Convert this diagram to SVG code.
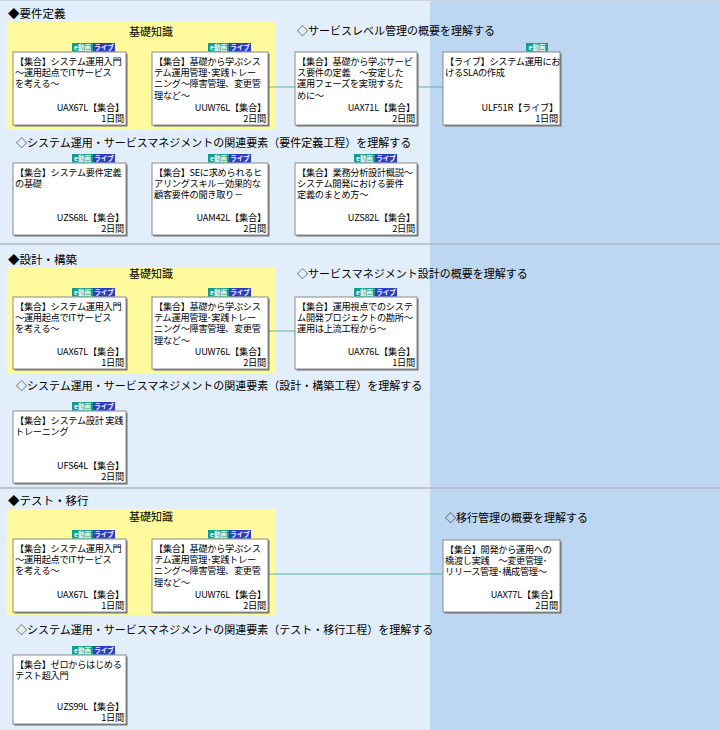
<svg xmlns="http://www.w3.org/2000/svg" width="720" height="730" viewBox="0 0 720 730">
<style>
text{font-family:"Noto Sans CJK JP","Noto Sans",sans-serif;fill:#000}
.sec{font-size:11.5px}
.h{font-size:11px}
.kk{font-size:11px}
.t{font-size:9.2px;letter-spacing:-0.3px}
.r{font-size:9.2px;letter-spacing:-0.2px;text-anchor:end}
.bx{fill:#fff;stroke:#8a8a8a;stroke-width:1}
.sh{fill:#6e6e6e}
.bt{font-size:6.5px;font-weight:bold;fill:#fff;text-anchor:middle}
.be{fill:#169c8c}
.bl{fill:#2b3fc4}
.yel{fill:#fffb9c}
.con{stroke:#5cb799;stroke-width:1;fill:none}
.sep{stroke:#b0b8c1;stroke-width:1.5}
</style>
<defs>
<g id="bdg">
<rect class="be" x="0" y="0" width="21" height="8.5"/>
<rect class="bl" x="21" y="0" width="22" height="8.5"/>
<text class="bt" x="10.5" y="6.8">e動画</text>
<text class="bt" x="32" y="6.8">ライブ</text>
</g>
<g id="bdge">
<rect class="be" x="0" y="0" width="22" height="8.5"/>
<text class="bt" x="11" y="6.8">e動画</text>
</g>
</defs>
<rect x="0" y="0" width="720" height="730" fill="#e3eefb"/>
<rect x="430" y="0" width="290" height="730" fill="#bdd6f2"/>
<line x1="0" y1="0.5" x2="720" y2="0.5" stroke="#c9d3de" stroke-width="1"/>
<line class="sep" x1="0" y1="244" x2="720" y2="244"/>
<line class="sep" x1="0" y1="488" x2="720" y2="488"/>

<!-- Section 1 -->
<text class="sec" x="8" y="18">◆要件定義</text>
<rect class="yel" x="7" y="22" width="268" height="107"/>
<text class="kk" x="151" y="36" text-anchor="middle">基礎知識</text>
<text class="h" x="297" y="35">◇サービスレベル管理の概要を理解する</text>
<text class="h" x="16" y="147">◇システム運用・サービスマネジメントの関連要素（要件定義工程）を理解する</text>

<!-- Section 2 -->
<text class="sec" x="8" y="264">◆設計・構築</text>
<rect class="yel" x="7" y="267" width="268" height="106"/>
<text class="kk" x="151" y="278" text-anchor="middle">基礎知識</text>
<text class="h" x="297" y="278">◇サービスマネジメント設計の概要を理解する</text>
<text class="h" x="16" y="390">◇システム運用・サービスマネジメントの関連要素（設計・構築工程）を理解する</text>

<!-- Section 3 -->
<text class="sec" x="8" y="505">◆テスト・移行</text>
<rect class="yel" x="7" y="509" width="268" height="106"/>
<text class="kk" x="151" y="521" text-anchor="middle">基礎知識</text>
<text class="h" x="445" y="522">◇移行管理の概要を理解する</text>
<text class="h" x="16" y="634">◇システム運用・サービスマネジメントの関連要素（テスト・移行工程）を理解する</text>

<g id="connectors">
<line class="con" x1="268" y1="87" x2="295" y2="87"/>
<line class="con" x1="417" y1="87" x2="443" y2="87"/>
<line class="con" x1="268" y1="331" x2="295" y2="331" stroke="#8fd3bd"/>
<line class="con" x1="268" y1="574" x2="443" y2="574"/>
</g>

<!-- S1 R1 -->
<g id="s1-uax67l">
<rect class="sh" x="14.5" y="53.5" width="113" height="73"/>
<rect class="bx" x="13" y="52" width="113" height="73"/>
<use href="#bdg" x="72" y="43"/>
<text class="t" x="15" y="65"><tspan x="15">【集合】システム運用入門</tspan><tspan x="15" dy="11.2">〜運用起点でITサービス</tspan><tspan x="15" dy="11.2">を考える〜</tspan></text>
<text class="r" x="124" y="111"><tspan x="124">UAX67L【集合】</tspan><tspan x="124" dy="11.2">1日間</tspan></text>
</g>
<g id="s1-uuw76l">
<rect class="sh" x="153.5" y="53.5" width="116" height="73"/>
<rect class="bx" x="152" y="52" width="116" height="73"/>
<use href="#bdg" x="208" y="43"/>
<text class="t" x="154" y="65"><tspan x="154">【集合】基礎から学ぶシス</tspan><tspan x="154" dy="11.2">テム運用管理･実践トレー</tspan><tspan x="154" dy="11.2">ニング〜障害管理、変更管</tspan><tspan x="154" dy="11.2">理など〜</tspan></text>
<text class="r" x="266" y="111"><tspan x="266">UUW76L【集合】</tspan><tspan x="266" dy="11.2">2日間</tspan></text>
</g>
<g id="s1-uax71l">
<rect class="sh" x="296.5" y="53.5" width="122" height="73"/>
<rect class="bx" x="295" y="52" width="122" height="73"/>
<text class="t" x="297" y="65"><tspan x="297">【集合】基礎から学ぶサービ</tspan><tspan x="297" dy="11.2">ス要件の定義　〜安定した</tspan><tspan x="297" dy="11.2">運用フェーズを実現するた</tspan><tspan x="297" dy="11.2">めに〜</tspan></text>
<text class="r" x="415" y="111"><tspan x="415">UAX71L【集合】</tspan><tspan x="415" dy="11.2">2日間</tspan></text>
</g>
<g id="s1-ulf51r">
<rect class="sh" x="444.5" y="53.5" width="117" height="73"/>
<rect class="bx" x="443" y="52" width="117" height="73"/>
<use href="#bdge" x="526" y="43"/>
<text class="t" x="445" y="65"><tspan x="445">【ライブ】システム運用にお</tspan><tspan x="445" dy="11.2">けるSLAの作成</tspan></text>
<text class="r" x="558" y="111"><tspan x="558">ULF51R【ライブ】</tspan><tspan x="558" dy="11.2">1日間</tspan></text>
</g>

<!-- S1 R2 -->
<g id="s1-uzs68l">
<rect class="sh" x="14.5" y="164.5" width="113" height="72"/>
<rect class="bx" x="13" y="163" width="113" height="72"/>
<use href="#bdg" x="72" y="154"/>
<text class="t" x="15" y="176"><tspan x="15">【集合】システム要件定義</tspan><tspan x="15" dy="11.2">の基礎</tspan></text>
<text class="r" x="124" y="221"><tspan x="124">UZS68L【集合】</tspan><tspan x="124" dy="11.2">2日間</tspan></text>
</g>
<g id="s1-uam42l">
<rect class="sh" x="153.5" y="164.5" width="116" height="72"/>
<rect class="bx" x="152" y="163" width="116" height="72"/>
<use href="#bdg" x="208" y="154"/>
<text class="t" x="154" y="176"><tspan x="154">【集合】SEに求められるヒ</tspan><tspan x="154" dy="11.2">アリングスキル－効果的な</tspan><tspan x="154" dy="11.2">顧客要件の聞き取り－</tspan></text>
<text class="r" x="266" y="221"><tspan x="266">UAM42L【集合】</tspan><tspan x="266" dy="11.2">2日間</tspan></text>
</g>
<g id="s1-uzs82l">
<rect class="sh" x="296.5" y="164.5" width="122" height="72"/>
<rect class="bx" x="295" y="163" width="122" height="72"/>
<use href="#bdg" x="354" y="154"/>
<text class="t" x="297" y="176"><tspan x="297">【集合】業務分析設計概説〜</tspan><tspan x="297" dy="11.2">システム開発における要件</tspan><tspan x="297" dy="11.2">定義のまとめ方〜</tspan></text>
<text class="r" x="415" y="221"><tspan x="415">UZS82L【集合】</tspan><tspan x="415" dy="11.2">2日間</tspan></text>
</g>

<!-- S2 R1 -->
<g id="s2-uax67l">
<rect class="sh" x="14.5" y="298.5" width="113" height="72"/>
<rect class="bx" x="13" y="297" width="113" height="72"/>
<use href="#bdg" x="72" y="288"/>
<text class="t" x="15" y="310"><tspan x="15">【集合】システム運用入門</tspan><tspan x="15" dy="11.2">〜運用起点でITサービス</tspan><tspan x="15" dy="11.2">を考える〜</tspan></text>
<text class="r" x="124" y="355"><tspan x="124">UAX67L【集合】</tspan><tspan x="124" dy="11.2">1日間</tspan></text>
</g>
<g id="s2-uuw76l">
<rect class="sh" x="153.5" y="298.5" width="116" height="72"/>
<rect class="bx" x="152" y="297" width="116" height="72"/>
<use href="#bdg" x="208" y="288"/>
<text class="t" x="154" y="310"><tspan x="154">【集合】基礎から学ぶシス</tspan><tspan x="154" dy="11.2">テム運用管理･実践トレー</tspan><tspan x="154" dy="11.2">ニング〜障害管理、変更管</tspan><tspan x="154" dy="11.2">理など〜</tspan></text>
<text class="r" x="266" y="355"><tspan x="266">UUW76L【集合】</tspan><tspan x="266" dy="11.2">2日間</tspan></text>
</g>
<g id="s2-uax76l">
<rect class="sh" x="296.5" y="298.5" width="122" height="72"/>
<rect class="bx" x="295" y="297" width="122" height="72"/>
<use href="#bdg" x="354" y="288"/>
<text class="t" x="297" y="310"><tspan x="297">【集合】運用視点でのシステ</tspan><tspan x="297" dy="11.2">ム開発プロジェクトの勘所〜</tspan><tspan x="297" dy="11.2">運用は上流工程から〜</tspan></text>
<text class="r" x="415" y="355"><tspan x="415">UAX76L【集合】</tspan><tspan x="415" dy="11.2">1日間</tspan></text>
</g>

<!-- S2 R2 -->
<g id="s2-ufs64l">
<rect class="sh" x="14.5" y="412.5" width="113" height="72"/>
<rect class="bx" x="13" y="411" width="113" height="72"/>
<use href="#bdg" x="72" y="402"/>
<text class="t" x="15" y="424"><tspan x="15">【集合】システム設計 実践</tspan><tspan x="15" dy="11.2">トレーニング</tspan></text>
<text class="r" x="124" y="469"><tspan x="124">UFS64L【集合】</tspan><tspan x="124" dy="11.2">2日間</tspan></text>
</g>

<!-- S3 R1 -->
<g id="s3-uax67l">
<rect class="sh" x="14.5" y="540.5" width="113" height="73"/>
<rect class="bx" x="13" y="539" width="113" height="73"/>
<use href="#bdg" x="72" y="530"/>
<text class="t" x="15" y="552"><tspan x="15">【集合】システム運用入門</tspan><tspan x="15" dy="11.2">〜運用起点でITサービス</tspan><tspan x="15" dy="11.2">を考える〜</tspan></text>
<text class="r" x="124" y="598"><tspan x="124">UAX67L【集合】</tspan><tspan x="124" dy="11.2">1日間</tspan></text>
</g>
<g id="s3-uuw76l">
<rect class="sh" x="153.5" y="540.5" width="116" height="73"/>
<rect class="bx" x="152" y="539" width="116" height="73"/>
<use href="#bdg" x="208" y="530"/>
<text class="t" x="154" y="552"><tspan x="154">【集合】基礎から学ぶシス</tspan><tspan x="154" dy="11.2">テム運用管理･実践トレー</tspan><tspan x="154" dy="11.2">ニング〜障害管理、変更管</tspan><tspan x="154" dy="11.2">理など〜</tspan></text>
<text class="r" x="266" y="598"><tspan x="266">UUW76L【集合】</tspan><tspan x="266" dy="11.2">2日間</tspan></text>
</g>
<g id="s3-uax77l">
<rect class="sh" x="444.5" y="541.5" width="117" height="72"/>
<rect class="bx" x="443" y="540" width="117" height="72"/>
<text class="t" x="445" y="553"><tspan x="445">【集合】開発から運用への</tspan><tspan x="445" dy="11.2">橋渡し実践　〜変更管理･</tspan><tspan x="445" dy="11.2">リリース管理･構成管理〜</tspan></text>
<text class="r" x="558" y="598"><tspan x="558">UAX77L【集合】</tspan><tspan x="558" dy="11.2">2日間</tspan></text>
</g>

<!-- S3 R2 -->
<g id="s3-uzs99l">
<rect class="sh" x="14.5" y="656.5" width="113" height="69"/>
<rect class="bx" x="13" y="655" width="113" height="69"/>
<use href="#bdg" x="72" y="646"/>
<text class="t" x="15" y="668"><tspan x="15">【集合】ゼロからはじめる</tspan><tspan x="15" dy="11.2">テスト超入門</tspan></text>
<text class="r" x="124" y="710"><tspan x="124">UZS99L【集合】</tspan><tspan x="124" dy="11.2">1日間</tspan></text>
</g>
</svg>
